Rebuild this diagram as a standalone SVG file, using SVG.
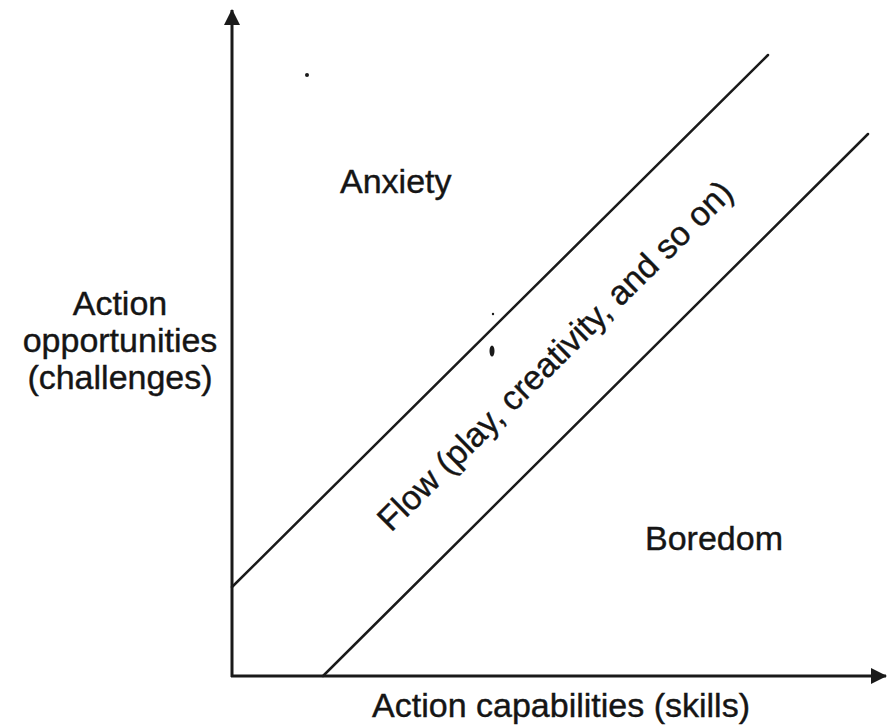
<svg xmlns="http://www.w3.org/2000/svg" width="887" height="726" viewBox="0 0 887 726">
<style>
.t{font-family:"Liberation Sans",Arial,sans-serif;font-size:34px;fill:#151515;stroke:#151515;stroke-width:0.4}
.ax{stroke:#1a1a1a;stroke-width:3;fill:none}
.dg{stroke:#1a1a1a;stroke-width:2.5;fill:none;stroke-linecap:round}
</style>
<defs>
<marker id="ah" viewBox="0 0 16 16" refX="15" refY="8" markerWidth="16" markerHeight="16" markerUnits="userSpaceOnUse" orient="auto">
<path d="M0,0 L16,8 L0,16 z" fill="#1a1a1a"/>
</marker>
</defs>
<rect width="887" height="726" fill="#fff"/>
<g id="connectors">
<line class="ax" x1="232" y1="677" x2="232" y2="10" marker-end="url(#ah)"/>
<line class="ax" x1="231" y1="676" x2="886" y2="676" marker-end="url(#ah)"/>
<line class="dg" x1="232" y1="587" x2="768" y2="55"/>
<line class="dg" x1="323" y1="676" x2="868" y2="134"/>
</g>
<g id="y-label">
<text class="t" text-anchor="middle" x="120" y="315">Action</text>
<text class="t" text-anchor="middle" x="120" y="352">opportunities</text>
<text class="t" text-anchor="middle" x="120" y="389">(challenges)</text>
</g>
<g id="x-label"><text class="t" text-anchor="middle" x="561" y="717">Action capabilities (skills)</text></g>
<g id="anxiety"><text class="t" x="340" y="193">Anxiety</text></g>
<g id="boredom"><text class="t" x="645" y="550">Boredom</text></g>
<g id="flow"><text class="t" text-anchor="middle" transform="translate(563,364) rotate(-44.5)">Flow (play, creativity, and so on)</text></g>
<g id="marks" fill="#1a1a1a">
<circle cx="307" cy="75" r="2"/>
<circle cx="493" cy="314" r="1.2"/>
<ellipse cx="492" cy="351" rx="2.5" ry="5.5"/>
</g>
</svg>
